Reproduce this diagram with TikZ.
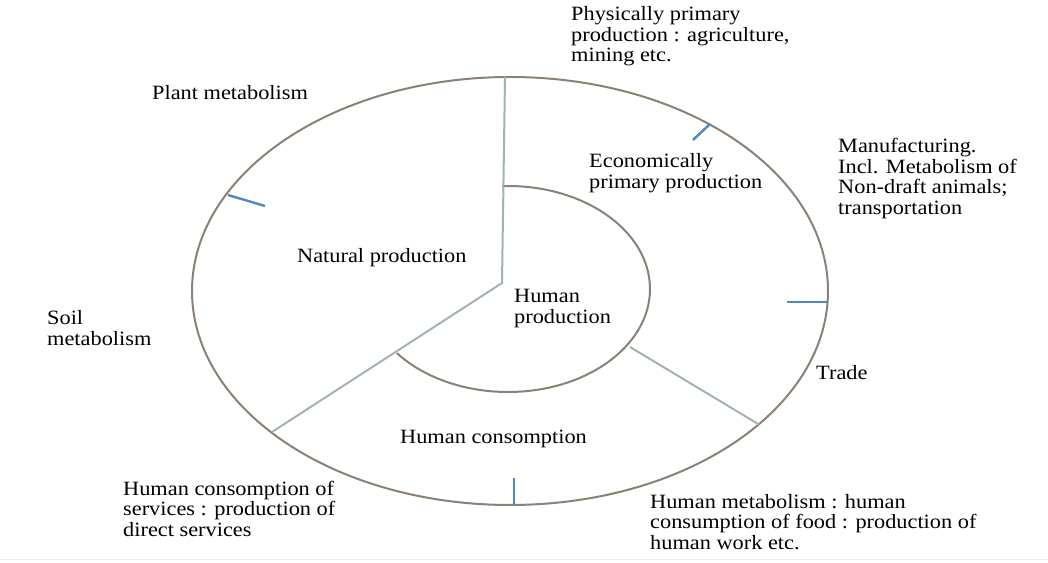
\documentclass[tikz,border=0pt]{standalone}
\usepackage{graphicx}
\usepackage{fontspec}
\setmainfont{Liberation Serif}
\definecolor{ringcol}{HTML}{8C8177}
\definecolor{splitcol}{HTML}{A3B4AF}
\definecolor{tickcol}{HTML}{4F88C6}
% left-aligned multi-line label, slightly widened
\newcommand{\txtblock}[1]{\scalebox{1.1}[1]{\begin{tabular}[t]{@{}l@{}}#1\end{tabular}}}
\tikzset{
  lbl/.style={anchor=base west, inner sep=0pt, font=\fontsize{20.3}{20.5}\selectfont},
  ring/.style={draw=ringcol, line width=2pt},
  split/.style={draw=splitcol, line width=2pt},
  tick/.style={draw=tickcol, line width=2.4pt},
}
\begin{document}
\begin{tikzpicture}[x=1pt,y=1pt]
\useasboundingbox (0,0) rectangle (1048,562);
\fill[white] (0,0) rectangle (1048,562);
\draw[black!7, line width=0.8pt] (0,3) -- (1048,3);

% centres of the two rings
\coordinate (oc) at (510,271);
\coordinate (ic) at (508,273);

% outer ring
\draw[ring] (oc) ellipse [x radius=318pt, y radius=214pt];
% inner ring (open arc, between the two dividers)
\draw[ring] ([shift={(92.4:142pt and 103pt)}]ic)
  arc[start angle=92.4, end angle=-141.5, x radius=142pt, y radius=103pt];

% dividers
\coordinate (top) at (505,485);
\coordinate (hub) at (502,279);
\coordinate (sw) at (272,130);
\coordinate (ine) at (630,215);
\coordinate (oute) at (759,137.5);
\draw[split] (top) -- (hub) -- (sw);
\draw[split] (ine) -- (oute);

% small marks on the outer ring
\coordinate (t1a) at (228,367); \coordinate (t1b) at (265,356);
\coordinate (t2a) at (710,438); \coordinate (t2b) at (693,422);
\coordinate (t3a) at (787,260); \coordinate (t3b) at (827,260);
\coordinate (t4a) at (514,84);  \coordinate (t4b) at (514,57);
\draw[tick] (t1a) -- (t1b);
\draw[tick] (t2a) -- (t2b);
\draw[tick] (t3a) -- (t3b);
\draw[tick] (t4a) -- (t4b);

% labels
\node[lbl] (phys) at (571,541) {\txtblock{Physically primary\\production : agriculture,\\mining etc.}};
\node[lbl] (plant) at (152,462) {\txtblock{Plant metabolism}};
\node[lbl] (manuf) at (838,409) {\txtblock{Manufacturing.\\Incl. Metabolism of\\Non-draft animals;\\transportation}};
\node[lbl] (econ) at (589,394) {\txtblock{Economically\\primary production}};
\node[lbl] (natural) at (297,299) {\txtblock{Natural production}};
\node[lbl] (humprod) at (514,259) {\txtblock{Human\\production}};
\node[lbl] (soil) at (47,237) {\txtblock{Soil\\metabolism}};
\node[lbl] (trade) at (816,182) {\txtblock{Trade}};
\node[lbl] (humcons) at (400,118) {\txtblock{Human consomption}};
\node[lbl] (services) at (123,67) {\txtblock{Human consomption of\\services : production of\\direct services}};
\node[lbl] (humanmet) at (650,54) {\txtblock{Human metabolism : human\\consumption of food : production of\\human work etc.}};
\end{tikzpicture}
\end{document}
